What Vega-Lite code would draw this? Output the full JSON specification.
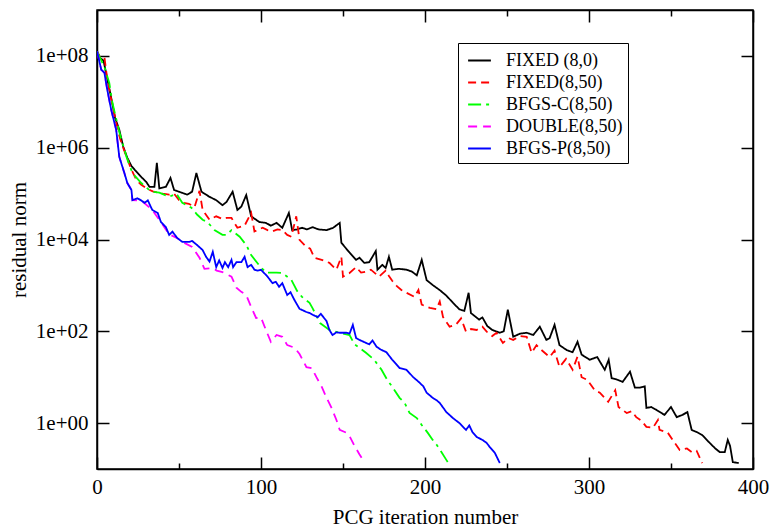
{
  "$schema": "https://vega.github.io/schema/vega-lite/v6.json",
  "autosize": "none",
  "width": 656,
  "height": 459,
  "padding": {"left": 97, "top": 10, "right": 19, "bottom": 58},
  "config": {
    "font": "Liberation Serif",
    "view": {"stroke": "black", "strokeWidth": 1.5},
    "axis": {"domainColor": "black", "domainWidth": 1.5, "tickColor": "black", "tickWidth": 1.5, "labelColor": "black", "titleColor": "black", "labelFont": "Liberation Serif", "titleFont": "Liberation Serif", "labelFontSize": 21, "titleFontSize": 21, "titleFontWeight": "normal", "grid": false}
  },
  "data": {"values": [
    {"s":"FIXED (8,0)","i":0,"r":1.26e8},{"s":"FIXED (8,0)","i":2,"r":8.9e7},{"s":"FIXED (8,0)","i":4,"r":7.9e7},{"s":"FIXED (8,0)","i":6,"r":3.5e7},{"s":"FIXED (8,0)","i":8.7,"r":1.2e7},{"s":"FIXED (8,0)","i":11,"r":4.5e6},{"s":"FIXED (8,0)","i":13.6,"r":2.45e6},{"s":"FIXED (8,0)","i":16,"r":1.05e6},{"s":"FIXED (8,0)","i":18.5,"r":6.0e5},{"s":"FIXED (8,0)","i":21,"r":4.0e5},{"s":"FIXED (8,0)","i":23,"r":3.3e5},{"s":"FIXED (8,0)","i":27,"r":2.3e5},{"s":"FIXED (8,0)","i":30,"r":1.8e5},{"s":"FIXED (8,0)","i":32,"r":1.4e5},{"s":"FIXED (8,0)","i":35,"r":1.4e5},{"s":"FIXED (8,0)","i":36.5,"r":4.7e5},{"s":"FIXED (8,0)","i":38,"r":1.3e5},{"s":"FIXED (8,0)","i":42,"r":1.4e5},{"s":"FIXED (8,0)","i":44.8,"r":2.2e5},{"s":"FIXED (8,0)","i":47,"r":1.2e5},{"s":"FIXED (8,0)","i":51.5,"r":1.05e5},{"s":"FIXED (8,0)","i":55,"r":9.5e4},{"s":"FIXED (8,0)","i":58,"r":1.1e5},{"s":"FIXED (8,0)","i":60.6,"r":2.8e5},{"s":"FIXED (8,0)","i":63.7,"r":1.1e5},{"s":"FIXED (8,0)","i":68.6,"r":8.5e4},{"s":"FIXED (8,0)","i":72.7,"r":7.2e4},{"s":"FIXED (8,0)","i":76.5,"r":5.6e4},{"s":"FIXED (8,0)","i":79,"r":6.6e4},{"s":"FIXED (8,0)","i":82.7,"r":1.1e5},{"s":"FIXED (8,0)","i":85.6,"r":4.4e4},{"s":"FIXED (8,0)","i":88,"r":5.2e4},{"s":"FIXED (8,0)","i":91,"r":9.3e4},{"s":"FIXED (8,0)","i":94,"r":3.2e4},{"s":"FIXED (8,0)","i":99,"r":2.4e4},{"s":"FIXED (8,0)","i":103,"r":2.3e4},{"s":"FIXED (8,0)","i":106,"r":2.0e4},{"s":"FIXED (8,0)","i":109.5,"r":2.3e4},{"s":"FIXED (8,0)","i":113,"r":1.8e4},{"s":"FIXED (8,0)","i":117,"r":3.8e4},{"s":"FIXED (8,0)","i":119,"r":1.6e4},{"s":"FIXED (8,0)","i":122,"r":1.66e4},{"s":"FIXED (8,0)","i":125,"r":1.8e4},{"s":"FIXED (8,0)","i":128,"r":1.66e4},{"s":"FIXED (8,0)","i":131.5,"r":1.86e4},{"s":"FIXED (8,0)","i":135,"r":1.66e4},{"s":"FIXED (8,0)","i":140,"r":1.6e4},{"s":"FIXED (8,0)","i":144,"r":1.8e4},{"s":"FIXED (8,0)","i":148,"r":2.3e4},{"s":"FIXED (8,0)","i":149,"r":8.5e3},{"s":"FIXED (8,0)","i":152,"r":6.3e3},{"s":"FIXED (8,0)","i":154,"r":5.2e3},{"s":"FIXED (8,0)","i":158,"r":3.6e3},{"s":"FIXED (8,0)","i":160,"r":4.0e3},{"s":"FIXED (8,0)","i":163,"r":3.1e3},{"s":"FIXED (8,0)","i":166,"r":3.2e3},{"s":"FIXED (8,0)","i":170,"r":5.6e3},{"s":"FIXED (8,0)","i":171,"r":2.2e3},{"s":"FIXED (8,0)","i":174,"r":2.8e3},{"s":"FIXED (8,0)","i":176,"r":2.4e3},{"s":"FIXED (8,0)","i":178,"r":4.2e3},{"s":"FIXED (8,0)","i":180,"r":2.2e3},{"s":"FIXED (8,0)","i":184,"r":2.3e3},{"s":"FIXED (8,0)","i":188.7,"r":2.2e3},{"s":"FIXED (8,0)","i":192,"r":2.0e3},{"s":"FIXED (8,0)","i":195,"r":1.66e3},{"s":"FIXED (8,0)","i":198,"r":3.6e3},{"s":"FIXED (8,0)","i":201,"r":1.3e3},{"s":"FIXED (8,0)","i":205,"r":1.0e3},{"s":"FIXED (8,0)","i":209,"r":790},{"s":"FIXED (8,0)","i":213,"r":600},{"s":"FIXED (8,0)","i":217,"r":420},{"s":"FIXED (8,0)","i":221,"r":300},{"s":"FIXED (8,0)","i":224,"r":280},{"s":"FIXED (8,0)","i":226.6,"r":690},{"s":"FIXED (8,0)","i":228,"r":250},{"s":"FIXED (8,0)","i":233,"r":180},{"s":"FIXED (8,0)","i":235,"r":200},{"s":"FIXED (8,0)","i":238,"r":130},{"s":"FIXED (8,0)","i":241,"r":107},{"s":"FIXED (8,0)","i":245.6,"r":93},{"s":"FIXED (8,0)","i":248,"r":100},{"s":"FIXED (8,0)","i":250.5,"r":295},{"s":"FIXED (8,0)","i":253.8,"r":76},{"s":"FIXED (8,0)","i":258,"r":89},{"s":"FIXED (8,0)","i":262,"r":93},{"s":"FIXED (8,0)","i":266,"r":83},{"s":"FIXED (8,0)","i":270,"r":126},{"s":"FIXED (8,0)","i":274,"r":65},{"s":"FIXED (8,0)","i":276,"r":71},{"s":"FIXED (8,0)","i":279,"r":138},{"s":"FIXED (8,0)","i":282,"r":50},{"s":"FIXED (8,0)","i":286.4,"r":39},{"s":"FIXED (8,0)","i":290,"r":35},{"s":"FIXED (8,0)","i":293,"r":59},{"s":"FIXED (8,0)","i":295.5,"r":31},{"s":"FIXED (8,0)","i":300.4,"r":24},{"s":"FIXED (8,0)","i":305,"r":27.5},{"s":"FIXED (8,0)","i":309.6,"r":14.5},{"s":"FIXED (8,0)","i":312,"r":24},{"s":"FIXED (8,0)","i":313.8,"r":9.5},{"s":"FIXED (8,0)","i":317,"r":8.9},{"s":"FIXED (8,0)","i":320.5,"r":7.9},{"s":"FIXED (8,0)","i":325,"r":13.2},{"s":"FIXED (8,0)","i":328,"r":5.9},{"s":"FIXED (8,0)","i":331,"r":5.9},{"s":"FIXED (8,0)","i":334,"r":6.3},{"s":"FIXED (8,0)","i":335,"r":2.14},{"s":"FIXED (8,0)","i":338,"r":2.24},{"s":"FIXED (8,0)","i":341,"r":1.95},{"s":"FIXED (8,0)","i":346,"r":1.51},{"s":"FIXED (8,0)","i":350,"r":2.24},{"s":"FIXED (8,0)","i":353.5,"r":1.35},{"s":"FIXED (8,0)","i":357,"r":1.51},{"s":"FIXED (8,0)","i":360,"r":1.74},{"s":"FIXED (8,0)","i":362.6,"r":0.71},{"s":"FIXED (8,0)","i":366,"r":0.63},{"s":"FIXED (8,0)","i":369,"r":0.55},{"s":"FIXED (8,0)","i":373.6,"r":0.37},{"s":"FIXED (8,0)","i":377,"r":0.28},{"s":"FIXED (8,0)","i":379.7,"r":0.234},{"s":"FIXED (8,0)","i":382.8,"r":0.234},{"s":"FIXED (8,0)","i":384.6,"r":0.43},{"s":"FIXED (8,0)","i":386,"r":0.32},{"s":"FIXED (8,0)","i":387.7,"r":0.141},{"s":"FIXED (8,0)","i":391.3,"r":0.135},

    {"s":"FIXED(8,50)","i":0,"r":1.26e8},{"s":"FIXED(8,50)","i":2,"r":8.9e7},{"s":"FIXED(8,50)","i":4.5,"r":9.5e7},{"s":"FIXED(8,50)","i":6.3,"r":3.0e7},{"s":"FIXED(8,50)","i":9,"r":1.0e7},{"s":"FIXED(8,50)","i":11.7,"r":3.5e6},{"s":"FIXED(8,50)","i":14,"r":1.6e6},{"s":"FIXED(8,50)","i":17,"r":7.9e5},{"s":"FIXED(8,50)","i":21,"r":3.3e5},{"s":"FIXED(8,50)","i":24,"r":2.0e5},{"s":"FIXED(8,50)","i":27,"r":1.55e5},{"s":"FIXED(8,50)","i":31,"r":1.26e5},{"s":"FIXED(8,50)","i":34,"r":1.12e5},{"s":"FIXED(8,50)","i":37,"r":1.05e5},{"s":"FIXED(8,50)","i":40,"r":1.0e5},{"s":"FIXED(8,50)","i":44,"r":9.5e4},{"s":"FIXED(8,50)","i":47,"r":1.0e5},{"s":"FIXED(8,50)","i":50,"r":7.2e4},{"s":"FIXED(8,50)","i":53,"r":6.3e4},{"s":"FIXED(8,50)","i":56,"r":6.0e4},{"s":"FIXED(8,50)","i":59.5,"r":5.1e4},{"s":"FIXED(8,50)","i":62.5,"r":1.15e5},{"s":"FIXED(8,50)","i":64.4,"r":4.4e4},{"s":"FIXED(8,50)","i":68.6,"r":2.7e4},{"s":"FIXED(8,50)","i":72.7,"r":3.2e4},{"s":"FIXED(8,50)","i":76.5,"r":2.8e4},{"s":"FIXED(8,50)","i":79,"r":2.95e4},{"s":"FIXED(8,50)","i":82,"r":2.95e4},{"s":"FIXED(8,50)","i":85.6,"r":1.8e4},{"s":"FIXED(8,50)","i":90,"r":2.0e4},{"s":"FIXED(8,50)","i":94,"r":3.8e4},{"s":"FIXED(8,50)","i":96,"r":1.5e4},{"s":"FIXED(8,50)","i":101,"r":1.8e4},{"s":"FIXED(8,50)","i":104,"r":1.6e4},{"s":"FIXED(8,50)","i":107,"r":1.5e4},{"s":"FIXED(8,50)","i":110,"r":1.66e4},{"s":"FIXED(8,50)","i":113,"r":1.6e4},{"s":"FIXED(8,50)","i":116,"r":1.26e4},{"s":"FIXED(8,50)","i":118.5,"r":1.15e4},{"s":"FIXED(8,50)","i":121.5,"r":3.2e4},{"s":"FIXED(8,50)","i":123.5,"r":9.8e3},{"s":"FIXED(8,50)","i":127.7,"r":6.9e3},{"s":"FIXED(8,50)","i":130,"r":6.3e3},{"s":"FIXED(8,50)","i":132.6,"r":4.0e3},{"s":"FIXED(8,50)","i":137,"r":3.6e3},{"s":"FIXED(8,50)","i":141.7,"r":3.1e3},{"s":"FIXED(8,50)","i":146,"r":2.2e3},{"s":"FIXED(8,50)","i":149,"r":4.2e3},{"s":"FIXED(8,50)","i":150,"r":1.55e3},{"s":"FIXED(8,50)","i":154,"r":1.86e3},{"s":"FIXED(8,50)","i":158,"r":2.5e3},{"s":"FIXED(8,50)","i":161,"r":1.9e3},{"s":"FIXED(8,50)","i":164,"r":2.0e3},{"s":"FIXED(8,50)","i":167,"r":2.2e3},{"s":"FIXED(8,50)","i":172,"r":1.55e3},{"s":"FIXED(8,50)","i":176,"r":2.1e3},{"s":"FIXED(8,50)","i":178,"r":1.6e3},{"s":"FIXED(8,50)","i":180,"r":1.26e3},{"s":"FIXED(8,50)","i":183,"r":955},{"s":"FIXED(8,50)","i":185.6,"r":794},{"s":"FIXED(8,50)","i":188.7,"r":692},{"s":"FIXED(8,50)","i":193.6,"r":562},{"s":"FIXED(8,50)","i":196,"r":794},{"s":"FIXED(8,50)","i":198,"r":380},{"s":"FIXED(8,50)","i":203,"r":324},{"s":"FIXED(8,50)","i":207,"r":302},{"s":"FIXED(8,50)","i":209,"r":447},{"s":"FIXED(8,50)","i":211,"r":204},{"s":"FIXED(8,50)","i":215,"r":126},{"s":"FIXED(8,50)","i":219,"r":141},{"s":"FIXED(8,50)","i":222,"r":191},{"s":"FIXED(8,50)","i":225,"r":98},{"s":"FIXED(8,50)","i":228,"r":112},{"s":"FIXED(8,50)","i":231.5,"r":107},{"s":"FIXED(8,50)","i":235,"r":126},{"s":"FIXED(8,50)","i":237.6,"r":98},{"s":"FIXED(8,50)","i":241,"r":79},{"s":"FIXED(8,50)","i":243.6,"r":93},{"s":"FIXED(8,50)","i":247.5,"r":56},{"s":"FIXED(8,50)","i":251,"r":71},{"s":"FIXED(8,50)","i":253.8,"r":65},{"s":"FIXED(8,50)","i":258,"r":79},{"s":"FIXED(8,50)","i":262,"r":76},{"s":"FIXED(8,50)","i":265,"r":34},{"s":"FIXED(8,50)","i":268,"r":50},{"s":"FIXED(8,50)","i":270,"r":42},{"s":"FIXED(8,50)","i":276,"r":27.5},{"s":"FIXED(8,50)","i":279,"r":38},{"s":"FIXED(8,50)","i":282,"r":16.6},{"s":"FIXED(8,50)","i":286,"r":25},{"s":"FIXED(8,50)","i":290,"r":14.5},{"s":"FIXED(8,50)","i":293,"r":28},{"s":"FIXED(8,50)","i":295.5,"r":10},{"s":"FIXED(8,50)","i":299,"r":8.7},{"s":"FIXED(8,50)","i":303.5,"r":5.2},{"s":"FIXED(8,50)","i":306.6,"r":4.6},{"s":"FIXED(8,50)","i":311.7,"r":2.9},{"s":"FIXED(8,50)","i":316,"r":5.2},{"s":"FIXED(8,50)","i":318,"r":2.24},{"s":"FIXED(8,50)","i":323,"r":1.66},{"s":"FIXED(8,50)","i":326,"r":1.82},{"s":"FIXED(8,50)","i":328.8,"r":1.35},{"s":"FIXED(8,50)","i":332,"r":1.12},{"s":"FIXED(8,50)","i":335,"r":0.83},{"s":"FIXED(8,50)","i":339,"r":0.79},{"s":"FIXED(8,50)","i":342,"r":1.17},{"s":"FIXED(8,50)","i":343,"r":0.71},{"s":"FIXED(8,50)","i":348,"r":0.62},{"s":"FIXED(8,50)","i":351,"r":0.43},{"s":"FIXED(8,50)","i":355.3,"r":0.26},{"s":"FIXED(8,50)","i":359.7,"r":0.28},{"s":"FIXED(8,50)","i":362.6,"r":0.234},{"s":"FIXED(8,50)","i":365.6,"r":0.25},{"s":"FIXED(8,50)","i":369,"r":0.135},

    {"s":"BFGS-C(8,50)","i":0,"r":1.26e8},{"s":"BFGS-C(8,50)","i":2,"r":8.9e7},{"s":"BFGS-C(8,50)","i":4.5,"r":5.75e7},{"s":"BFGS-C(8,50)","i":7.5,"r":2.57e7},{"s":"BFGS-C(8,50)","i":9.4,"r":9.5e6},{"s":"BFGS-C(8,50)","i":13.6,"r":2.2e6},{"s":"BFGS-C(8,50)","i":18,"r":6.3e5},{"s":"BFGS-C(8,50)","i":21.6,"r":2.8e5},{"s":"BFGS-C(8,50)","i":27,"r":1.7e5},{"s":"BFGS-C(8,50)","i":33,"r":1.1e5},{"s":"BFGS-C(8,50)","i":38,"r":1.05e5},{"s":"BFGS-C(8,50)","i":44,"r":8.5e4},{"s":"BFGS-C(8,50)","i":48.4,"r":1.0e5},{"s":"BFGS-C(8,50)","i":52,"r":6.3e4},{"s":"BFGS-C(8,50)","i":57.6,"r":4.9e4},{"s":"BFGS-C(8,50)","i":61,"r":3.5e4},{"s":"BFGS-C(8,50)","i":64.4,"r":2.7e4},{"s":"BFGS-C(8,50)","i":67.4,"r":2.4e4},{"s":"BFGS-C(8,50)","i":71.6,"r":1.6e4},{"s":"BFGS-C(8,50)","i":76.5,"r":1.26e4},{"s":"BFGS-C(8,50)","i":79,"r":1.26e4},{"s":"BFGS-C(8,50)","i":82,"r":1.6e4},{"s":"BFGS-C(8,50)","i":87,"r":1.15e4},{"s":"BFGS-C(8,50)","i":91,"r":7.6e3},{"s":"BFGS-C(8,50)","i":94,"r":4.6e3},{"s":"BFGS-C(8,50)","i":99,"r":2.7e3},{"s":"BFGS-C(8,50)","i":103,"r":1.9e3},{"s":"BFGS-C(8,50)","i":109.5,"r":1.9e3},{"s":"BFGS-C(8,50)","i":113,"r":1.86e3},{"s":"BFGS-C(8,50)","i":118.5,"r":1.32e3},{"s":"BFGS-C(8,50)","i":122,"r":759},{"s":"BFGS-C(8,50)","i":125,"r":562},{"s":"BFGS-C(8,50)","i":129.6,"r":417},{"s":"BFGS-C(8,50)","i":131.5,"r":316},{"s":"BFGS-C(8,50)","i":136,"r":151},{"s":"BFGS-C(8,50)","i":141.7,"r":107},{"s":"BFGS-C(8,50)","i":150,"r":89},{"s":"BFGS-C(8,50)","i":154,"r":83},{"s":"BFGS-C(8,50)","i":157,"r":52},{"s":"BFGS-C(8,50)","i":160,"r":44},{"s":"BFGS-C(8,50)","i":164,"r":34},{"s":"BFGS-C(8,50)","i":169,"r":24},{"s":"BFGS-C(8,50)","i":173.5,"r":14.5},{"s":"BFGS-C(8,50)","i":177,"r":8.7},{"s":"BFGS-C(8,50)","i":180,"r":6.2},{"s":"BFGS-C(8,50)","i":184.5,"r":3.55},{"s":"BFGS-C(8,50)","i":187.6,"r":2.75},{"s":"BFGS-C(8,50)","i":190.6,"r":1.66},{"s":"BFGS-C(8,50)","i":195,"r":1.29},{"s":"BFGS-C(8,50)","i":198,"r":0.91},{"s":"BFGS-C(8,50)","i":201.6,"r":0.62},{"s":"BFGS-C(8,50)","i":204.7,"r":0.43},{"s":"BFGS-C(8,50)","i":207,"r":0.34},{"s":"BFGS-C(8,50)","i":210,"r":0.234},{"s":"BFGS-C(8,50)","i":213,"r":0.158},{"s":"BFGS-C(8,50)","i":215,"r":0.123},

    {"s":"DOUBLE(8,50)","i":0,"r":1.26e8},{"s":"DOUBLE(8,50)","i":2.6,"r":5.0e7},{"s":"DOUBLE(8,50)","i":4.5,"r":4.3e7},{"s":"DOUBLE(8,50)","i":6.3,"r":1.8e7},{"s":"DOUBLE(8,50)","i":8.7,"r":6.6e6},{"s":"DOUBLE(8,50)","i":11.7,"r":2.45e6},{"s":"DOUBLE(8,50)","i":13.6,"r":6.3e5},{"s":"DOUBLE(8,50)","i":16.7,"r":2.8e5},{"s":"DOUBLE(8,50)","i":18.5,"r":1.7e5},{"s":"DOUBLE(8,50)","i":21,"r":1.2e5},{"s":"DOUBLE(8,50)","i":21.6,"r":7.2e4},{"s":"DOUBLE(8,50)","i":27,"r":7.1e4},{"s":"DOUBLE(8,50)","i":33.7,"r":4.4e4},{"s":"DOUBLE(8,50)","i":39,"r":2.4e4},{"s":"DOUBLE(8,50)","i":44,"r":1.3e4},{"s":"DOUBLE(8,50)","i":49,"r":1.07e4},{"s":"DOUBLE(8,50)","i":52,"r":8.9e3},{"s":"DOUBLE(8,50)","i":58,"r":6.9e3},{"s":"DOUBLE(8,50)","i":62.5,"r":4.0e3},{"s":"DOUBLE(8,50)","i":65.5,"r":2.3e3},{"s":"DOUBLE(8,50)","i":70.6,"r":2.4e3},{"s":"DOUBLE(8,50)","i":73,"r":2.1e3},{"s":"DOUBLE(8,50)","i":76.5,"r":1.95e3},{"s":"DOUBLE(8,50)","i":82,"r":1.55e3},{"s":"DOUBLE(8,50)","i":85,"r":891},{"s":"DOUBLE(8,50)","i":88,"r":724},{"s":"DOUBLE(8,50)","i":91,"r":617},{"s":"DOUBLE(8,50)","i":94,"r":339},{"s":"DOUBLE(8,50)","i":97,"r":195},{"s":"DOUBLE(8,50)","i":100,"r":200},{"s":"DOUBLE(8,50)","i":103,"r":107},{"s":"DOUBLE(8,50)","i":106,"r":59},{"s":"DOUBLE(8,50)","i":109.5,"r":83},{"s":"DOUBLE(8,50)","i":113,"r":76},{"s":"DOUBLE(8,50)","i":116,"r":50},{"s":"DOUBLE(8,50)","i":120.4,"r":44},{"s":"DOUBLE(8,50)","i":123.5,"r":32},{"s":"DOUBLE(8,50)","i":127.7,"r":16.6},{"s":"DOUBLE(8,50)","i":131,"r":15.8},{"s":"DOUBLE(8,50)","i":133.8,"r":10},{"s":"DOUBLE(8,50)","i":137,"r":6.2},{"s":"DOUBLE(8,50)","i":140,"r":3.55},{"s":"DOUBLE(8,50)","i":143,"r":2.14},{"s":"DOUBLE(8,50)","i":146,"r":1.17},{"s":"DOUBLE(8,50)","i":148,"r":0.71},{"s":"DOUBLE(8,50)","i":152,"r":0.62},{"s":"DOUBLE(8,50)","i":154,"r":0.52},{"s":"DOUBLE(8,50)","i":157,"r":0.32},{"s":"DOUBLE(8,50)","i":160,"r":0.21},{"s":"DOUBLE(8,50)","i":163,"r":0.141},

    {"s":"BFGS-P(8,50)","i":0,"r":1.26e8},{"s":"BFGS-P(8,50)","i":1,"r":8.9e7},{"s":"BFGS-P(8,50)","i":2.6,"r":5.0e7},{"s":"BFGS-P(8,50)","i":4.5,"r":4.3e7},{"s":"BFGS-P(8,50)","i":6.3,"r":1.8e7},{"s":"BFGS-P(8,50)","i":8.7,"r":6.6e6},{"s":"BFGS-P(8,50)","i":11.7,"r":2.45e6},{"s":"BFGS-P(8,50)","i":13.6,"r":6.3e5},{"s":"BFGS-P(8,50)","i":16.7,"r":2.8e5},{"s":"BFGS-P(8,50)","i":18.5,"r":1.7e5},{"s":"BFGS-P(8,50)","i":21,"r":1.2e5},{"s":"BFGS-P(8,50)","i":21.6,"r":7.2e4},{"s":"BFGS-P(8,50)","i":24.6,"r":7.9e4},{"s":"BFGS-P(8,50)","i":27,"r":7.1e4},{"s":"BFGS-P(8,50)","i":29,"r":6.3e4},{"s":"BFGS-P(8,50)","i":31,"r":7.1e4},{"s":"BFGS-P(8,50)","i":33.7,"r":4.4e4},{"s":"BFGS-P(8,50)","i":37,"r":3.8e4},{"s":"BFGS-P(8,50)","i":39,"r":2.4e4},{"s":"BFGS-P(8,50)","i":42,"r":1.86e4},{"s":"BFGS-P(8,50)","i":44,"r":1.26e4},{"s":"BFGS-P(8,50)","i":46,"r":1.48e4},{"s":"BFGS-P(8,50)","i":49,"r":1.07e4},{"s":"BFGS-P(8,50)","i":52,"r":8.9e3},{"s":"BFGS-P(8,50)","i":56.3,"r":8.9e3},{"s":"BFGS-P(8,50)","i":58,"r":9.3e3},{"s":"BFGS-P(8,50)","i":61,"r":7.6e3},{"s":"BFGS-P(8,50)","i":64.4,"r":5.9e3},{"s":"BFGS-P(8,50)","i":66.5,"r":4.2e3},{"s":"BFGS-P(8,50)","i":68.6,"r":3.3e3},{"s":"BFGS-P(8,50)","i":70.6,"r":5.4e3},{"s":"BFGS-P(8,50)","i":72.7,"r":2.5e3},{"s":"BFGS-P(8,50)","i":74.5,"r":3.5e3},{"s":"BFGS-P(8,50)","i":76.5,"r":2.4e3},{"s":"BFGS-P(8,50)","i":78,"r":3.2e3},{"s":"BFGS-P(8,50)","i":80,"r":2.5e3},{"s":"BFGS-P(8,50)","i":82,"r":3.6e3},{"s":"BFGS-P(8,50)","i":83,"r":2.5e3},{"s":"BFGS-P(8,50)","i":85,"r":3.2e3},{"s":"BFGS-P(8,50)","i":88,"r":3.2e3},{"s":"BFGS-P(8,50)","i":90,"r":4.2e3},{"s":"BFGS-P(8,50)","i":91.8,"r":2.5e3},{"s":"BFGS-P(8,50)","i":94,"r":2.8e3},{"s":"BFGS-P(8,50)","i":96,"r":2.2e3},{"s":"BFGS-P(8,50)","i":98,"r":2.1e3},{"s":"BFGS-P(8,50)","i":100,"r":2.2e3},{"s":"BFGS-P(8,50)","i":104,"r":1.55e3},{"s":"BFGS-P(8,50)","i":107,"r":1.12e3},{"s":"BFGS-P(8,50)","i":109,"r":1.2e3},{"s":"BFGS-P(8,50)","i":111,"r":933},{"s":"BFGS-P(8,50)","i":113,"r":1.12e3},{"s":"BFGS-P(8,50)","i":116,"r":617},{"s":"BFGS-P(8,50)","i":118,"r":708},{"s":"BFGS-P(8,50)","i":120.4,"r":479},{"s":"BFGS-P(8,50)","i":123.5,"r":309},{"s":"BFGS-P(8,50)","i":127.7,"r":263},{"s":"BFGS-P(8,50)","i":129.6,"r":251},{"s":"BFGS-P(8,50)","i":131.5,"r":229},{"s":"BFGS-P(8,50)","i":134.6,"r":204},{"s":"BFGS-P(8,50)","i":136.5,"r":240},{"s":"BFGS-P(8,50)","i":140,"r":166},{"s":"BFGS-P(8,50)","i":141.7,"r":107},{"s":"BFGS-P(8,50)","i":143.6,"r":83},{"s":"BFGS-P(8,50)","i":146,"r":95},{"s":"BFGS-P(8,50)","i":148,"r":93},{"s":"BFGS-P(8,50)","i":152,"r":93},{"s":"BFGS-P(8,50)","i":154,"r":89},{"s":"BFGS-P(8,50)","i":156,"r":138},{"s":"BFGS-P(8,50)","i":158,"r":71},{"s":"BFGS-P(8,50)","i":160,"r":65},{"s":"BFGS-P(8,50)","i":164,"r":56},{"s":"BFGS-P(8,50)","i":166,"r":52},{"s":"BFGS-P(8,50)","i":168,"r":63},{"s":"BFGS-P(8,50)","i":170.5,"r":46},{"s":"BFGS-P(8,50)","i":173,"r":40},{"s":"BFGS-P(8,50)","i":176.5,"r":35},{"s":"BFGS-P(8,50)","i":180,"r":24},{"s":"BFGS-P(8,50)","i":182,"r":20},{"s":"BFGS-P(8,50)","i":184.5,"r":15.8},{"s":"BFGS-P(8,50)","i":188.7,"r":14.5},{"s":"BFGS-P(8,50)","i":192.6,"r":10.2},{"s":"BFGS-P(8,50)","i":196.7,"r":7.6},{"s":"BFGS-P(8,50)","i":199,"r":6.3},{"s":"BFGS-P(8,50)","i":201,"r":4.6},{"s":"BFGS-P(8,50)","i":204.7,"r":3.55},{"s":"BFGS-P(8,50)","i":207,"r":3.16},{"s":"BFGS-P(8,50)","i":209,"r":2.75},{"s":"BFGS-P(8,50)","i":213,"r":1.74},{"s":"BFGS-P(8,50)","i":217,"r":1.29},{"s":"BFGS-P(8,50)","i":221,"r":1.0},{"s":"BFGS-P(8,50)","i":225,"r":0.71},{"s":"BFGS-P(8,50)","i":227,"r":0.89},{"s":"BFGS-P(8,50)","i":229,"r":0.63},{"s":"BFGS-P(8,50)","i":231.5,"r":0.5},{"s":"BFGS-P(8,50)","i":235,"r":0.43},{"s":"BFGS-P(8,50)","i":237.6,"r":0.37},{"s":"BFGS-P(8,50)","i":239.5,"r":0.3},{"s":"BFGS-P(8,50)","i":242.6,"r":0.224},{"s":"BFGS-P(8,50)","i":245.6,"r":0.135}
  ]},
  "layer": [
    {
      "mark": {"type": "line", "clip": true},
      "encoding": {
        "x": {"field": "i", "type": "quantitative", "scale": {"domain": [0, 400], "nice": false, "zero": false},
          "axis": {"orient": "bottom", "title": "PCG iteration number", "values": [0,50,100,150,200,250,300,350,400],
            "tickSize": {"condition": {"test": "datum.value % 100 === 0", "value": -12}, "value": -6},
            "labelExpr": "datum.value % 100 === 0 ? datum.label : ''", "labelPadding": 19, "titleY": 48, "titleBaseline": "middle", "labelFlush": false}},
        "y": {"field": "r", "type": "quantitative", "scale": {"type": "log", "domain": [0.1, 1e9], "nice": false},
          "axis": {"orient": "left", "title": "residual norm", "values": [1, 100, 10000, 1000000, 100000000], "tickSize": -12,
            "labelExpr": "'1e+0' + format(log(datum.value)/LN10, '.0f')", "labelPadding": 21, "titleX": -78, "titleY": 229.5, "titleBaseline": "middle", "titleAngle": -90, "labelFlush": false}},
        "color": {"field": "s", "type": "nominal", "scale": {"domain": ["FIXED (8,0)", "FIXED(8,50)", "BFGS-C(8,50)", "DOUBLE(8,50)", "BFGS-P(8,50)"], "range": ["#000000", "#ff0000", "#00ff00", "#ff00ff", "#0000ff"]},
          "legend": {"title": null, "orient": "none", "legendX": 361, "legendY": 33, "strokeColor": "black", "fillColor": "white", "padding": 5, "symbolType": "stroke", "symbolSize": 520, "symbolStrokeWidth": 2, "labelFontSize": 18, "labelFont": "Liberation Serif", "labelColor": "black", "labelOffset": 14, "rowPadding": 0, "labelLimit": 250, "symbolOffset": 4}},
        "strokeDash": {"field": "s", "type": "nominal", "scale": {"domain": ["FIXED (8,0)", "FIXED(8,50)", "BFGS-C(8,50)", "DOUBLE(8,50)", "BFGS-P(8,50)"], "range": [[1,0],[8,5],[13,5,3,5],[9,6],[1,0]]},
          "legend": {"title": null}},
        "strokeWidth": {"field": "s", "type": "nominal", "scale": {"domain": ["FIXED (8,0)", "FIXED(8,50)", "BFGS-C(8,50)", "DOUBLE(8,50)", "BFGS-P(8,50)"], "range": [1.8, 1.8, 3, 1.8, 1.8]}, "legend": null}
      }
    },
    {
      "mark": {"type": "point", "opacity": 0},
      "encoding": {
        "x": {"field": "i", "type": "quantitative", "axis": {"orient": "top", "title": null, "labels": false, "values": [0,50,100,150,200,250,300,350,400], "tickSize": {"condition": {"test": "datum.value % 100 === 0", "value": -12}, "value": -6}}},
        "y": {"field": "r", "type": "quantitative", "axis": {"orient": "right", "title": null, "labels": false, "values": [1, 100, 10000, 1000000, 100000000], "tickSize": -12}}
      }
    }
  ],
  "resolve": {"axis": {"x": "independent", "y": "independent"}}
}
